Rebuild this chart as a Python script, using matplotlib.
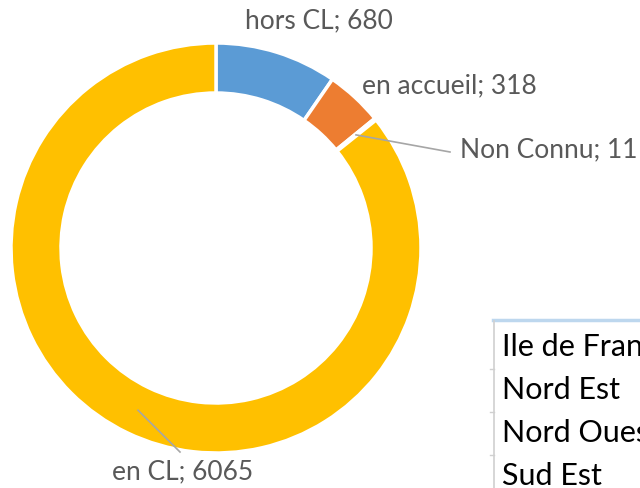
import numpy as np
import matplotlib
matplotlib.use('Agg')
import matplotlib.pyplot as plt

# data
categories = ['hors CL', 'en accueil', 'Non Connu', 'en CL']
values = [680, 318, 11, 6065]
colors = ['#5B9BD5', '#ED7D31', '#A5A5A5', '#FFC000']
regions = ['Ile de France', 'Nord Est', 'Nord Ouest', 'Sud Est']

W, H = 640, 488


def py(y):
    # screen pixel row -> data y (y up)
    return H - y


fig = plt.figure(figsize=(6.4, 4.88), dpi=100)
ax = fig.add_axes([0, 0, 1, 1])
ax.set_xlim(0, W)
ax.set_ylim(0, H)
ax.set_aspect('equal')
ax.axis('off')

cx, cy, R = 216, py(248), 205
ring = 50
wedges, _ = ax.pie(values, colors=colors, startangle=90, counterclock=False,
                   center=(cx, cy), radius=R, frame=True,
                   wedgeprops=dict(width=ring, edgecolor='white', linewidth=2.5))
ax.set_xlim(0, W)
ax.set_ylim(0, H)
ax.axis('off')

# label anchors (left edge / vertical centre, screen pixels); leader line or not
label_pos = [(245, 21), (362, 86), (460, 150), (112, 472)]
leader = [False, False, True, True]
label_color = '#595959'
for w, name, val, (lx, ly), lead in zip(wedges, categories, values,
                                        label_pos, leader):
    ax.text(lx, py(ly), f'{name}; {val}', ha='left', va='center',
            fontsize=19, color=label_color, family='Lato')
    if lead:
        mid = np.deg2rad((w.theta1 + w.theta2) / 2)
        r0 = R - ring / 2
        x0, y0 = cx + r0 * np.cos(mid), cy + r0 * np.sin(mid)
        if lx > cx:
            x1, y1 = lx - 10, py(ly + 2)
        else:
            x1, y1 = lx + 68, py(ly - 20)
        ax.plot([x0, x1], [y0, y1], color='#A6A6A6', lw=1.2)

# partially visible table on the right
ax.plot([493, W], [py(320), py(320)], color='#BDD7EE', lw=2.5)
ax.plot([494, 494], [py(321), 0], color='#D0D0D0', lw=1.2)
for i, reg in enumerate(regions):
    yy = 347 + i * 43
    ax.text(502, py(yy), reg, ha='left', va='center', fontsize=22,
            color='black', family='Lato')
    if i > 0:
        ax.plot([490, 494], [py(yy - 21), py(yy - 21)], color='#D0D0D0', lw=1)

fig.savefig('out.png', dpi=100)
